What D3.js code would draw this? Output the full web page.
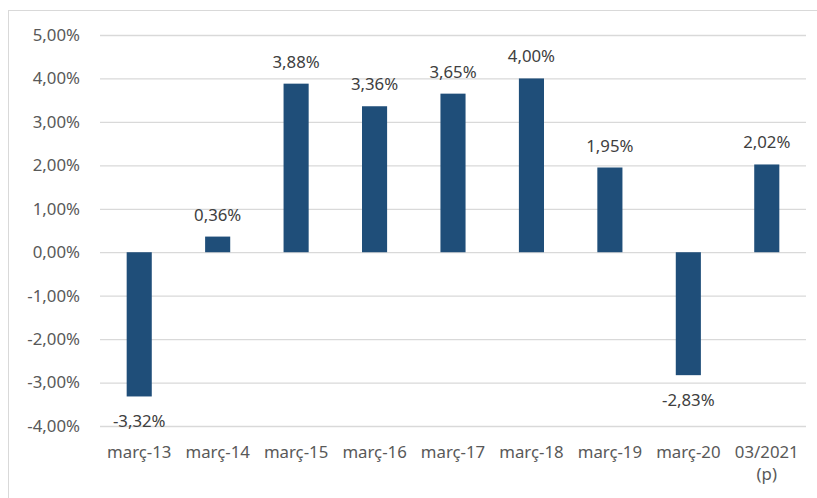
<!DOCTYPE html>
<html><head><meta charset="utf-8">
<script src="https://cdn.jsdelivr.net/npm/d3@7"></script>
<style>body{margin:0;background:#fff;} svg{display:block;}</style>
</head><body>
<svg id="c" width="817" height="498"></svg>
<script>
const categories = ["març-13","març-14","març-15","març-16","març-17","març-18","març-19","març-20","03/2021\n(p)"];
const values = [-3.32, 0.36, 3.88, 3.36, 3.65, 4.00, 1.95, -2.83, 2.02];
const yTicks = [-4,-3,-2,-1,0,1,2,3,4,5];

const svg = d3.select("#c");
const font = "'Noto Sans', sans-serif";
const fs = "16.8px";
svg.append("rect").attr("x",8.5).attr("y",10.5).attr("width",830).attr("height",500)
  .attr("fill","#fff").attr("stroke","#d9d9d9").attr("stroke-width",1);

const x = d3.scaleBand().domain(categories).range([100,806]).paddingInner(0.68).paddingOuter(0.34);
const y = d3.scaleLinear().domain([-4,5]).range([426,35]);
const fmt = v => d3.format(".2f")(v).replace(".",",").replace("\u2212","-") + "%";

const g = svg.append("g");
const yAxis = d3.axisLeft(y).tickValues(yTicks).tickSize(-706).tickFormat(fmt);
const ya = g.append("g").attr("transform","translate(100,0)").call(yAxis);
ya.select(".domain").remove();
ya.selectAll(".tick line").attr("stroke","#d9d9d9").attr("stroke-width",1.3);
ya.selectAll(".tick text").attr("x",-20).attr("fill","#595959").style("font-family",font).style("font-size",fs);

g.selectAll("rect.bar").data(values).join("rect").attr("class","bar")
  .attr("x",(d,i)=>x(categories[i]))
  .attr("width",x.bandwidth())
  .attr("y",d=>y(Math.max(0,d)))
  .attr("height",d=>Math.abs(y(d)-y(0)))
  .attr("fill","#1f4e79");

g.selectAll("text.lbl").data(values).join("text").attr("class","lbl")
  .attr("x",(d,i)=>x(categories[i])+x.bandwidth()/2)
  .attr("y",d=> d>=0 ? y(d)-16 : y(d)+31)
  .attr("text-anchor","middle").attr("fill","#404040")
  .style("font-family",font).style("font-size",fs)
  .text(fmt);

const xa = g.selectAll("text.cat").data(categories).join("text").attr("class","cat")
  .attr("x",(d,i)=>x(d)+x.bandwidth()/2)
  .attr("y",458).attr("text-anchor","middle").attr("fill","#595959")
  .style("font-family",font).style("font-size",fs);
xa.each(function(d){
  const lines = d.split("\n");
  const t = d3.select(this);
  lines.forEach((l,k)=>t.append("tspan").attr("x",t.attr("x")).attr("dy",k?22:0).text(l));
});
</script>
</body></html>
